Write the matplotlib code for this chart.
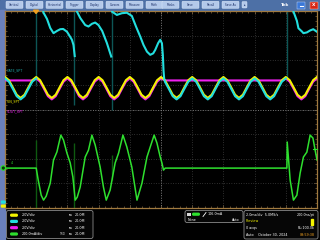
import numpy as np
import matplotlib.pyplot as plt
from matplotlib.patches import Rectangle, FancyBboxPatch, Circle, Polygon

# time base 2.0 ms/div, trigger at 0, 10 divisions on screen
t_grid = np.linspace(-2, 18, 81)   # 8 samples per division

# all traces in screen divisions (-4 .. 4)
# CH1 VIN_SPT (yellow)
ch1 = [1.32, 1.19, 0.90, 0.60, 0.47, 0.60, 0.90, 1.19,
       1.32, 1.19, 0.90, 0.60, 0.47, 0.60, 0.90, 1.19,
       1.32, 1.19, 0.90, 0.60, 0.47, 0.60, 0.90, 1.19,
       1.32, 1.19, 0.90, 0.60, 0.47, 0.60, 0.90, 1.19,
       1.32, 1.19, 0.90, 0.60, 0.47, 0.60, 0.90, 1.19,
       1.32, 1.19, 0.90, 0.60, 0.47, 0.60, 0.90, 1.19,
       1.32, 1.19, 0.90, 0.60, 0.47, 0.60, 0.90, 1.19,
       1.32, 1.19, 0.90, 0.60, 0.47, 0.60, 0.90, 1.19,
       1.32, 1.19, 0.90, 0.60, 0.47, 0.60, 0.90, 1.19,
       1.32, 1.19, 0.90, 0.60, 0.47, 0.60, 0.90, 1.19,
       1.32]

# CH3 VOUT_SPT (magenta)
ch3 = [1.18, 1.18, 1.18, 1.18, 1.18, 1.18, 1.18, 1.18,
       1.26, 1.13, 0.84, 0.54, 0.41, 0.54, 0.84, 1.13,
       1.26, 1.13, 0.84, 0.54, 0.41, 0.54, 0.84, 1.13,
       1.26, 1.13, 0.84, 0.54, 0.41, 0.54, 0.84, 1.13,
       1.26, 1.13, 0.84, 0.54, 0.41, 0.54, 0.84, 1.13,
       1.26, 1.18, 1.18, 1.18, 1.18, 1.18, 1.18, 1.18,
       1.18, 1.18, 1.18, 1.18, 1.18, 1.18, 1.18, 1.18,
       1.18, 1.18, 1.18, 1.18, 1.18, 1.18, 1.18, 1.18,
       1.18, 1.18, 1.18, 1.18, 1.18, 1.18, 1.18, 1.18,
       1.26, 1.13, 0.84, 0.54, 0.41, 0.54, 0.84, 1.13,
       1.26]

# CH2 GATE_SPT (cyan), bright parts as separate pieces
ch2_t = [
    [-2.0, -1.75, -1.5, -1.25, -1.0, -0.75, -0.5, -0.25, 0.0],
    [0.42, 0.47, 0.69, 0.90, 1.11, 1.33, 1.54, 1.73, 1.97, 2.18, 2.29, 2.39, 2.47],
    [2.58, 2.61, 2.82, 3.14, 3.35, 3.57, 3.78, 3.99, 4.23, 4.53, 4.81],
    [4.84, 4.85, 5.17, 5.49, 5.81, 6.13, 6.41, 6.67, 6.88, 7.10, 7.31, 7.50,
     7.63, 7.82, 7.95, 8.06, 8.12, 8.16, 8.20,
     8.25, 8.5, 8.75, 9.0, 9.25, 9.5, 9.75, 10.0,
     10.25, 10.5, 10.75, 11.0, 11.25, 11.5, 11.75, 12.0,
     12.25, 12.5, 12.75, 13.0, 13.25, 13.5, 13.75, 14.0,
     14.25, 14.5, 14.75, 15.0, 15.25, 15.5, 15.75, 16.0],
    [16.47, 16.49, 16.71, 16.81, 17.03, 17.13, 17.35, 17.56, 17.76, 17.99],
]
ch2_v = [
    [1.26, 1.13, 0.84, 0.54, 0.41, 0.54, 0.84, 1.13, 1.26],
    [4.10, 3.93, 3.68, 3.31, 3.10, 3.19, 3.26, 3.27, 3.16, 2.95, 2.83, 2.62, 2.17],
    [4.09, 3.98, 3.72, 3.43, 3.37, 3.48, 3.53, 3.43, 3.19, 2.70, 2.15],
    [4.09, 3.98, 3.84, 3.91, 3.93, 3.80, 3.35, 2.96, 2.62, 2.35, 2.22, 2.28,
     2.42, 2.70, 2.83, 2.69, 2.20, 1.60, 1.27,
     1.13, 0.84, 0.54, 0.41, 0.54, 0.84, 1.13, 1.26,
     1.13, 0.84, 0.54, 0.41, 0.54, 0.84, 1.13, 1.26,
     1.13, 0.84, 0.54, 0.41, 0.54, 0.84, 1.13, 1.26,
     1.13, 0.84, 0.54, 0.41, 0.54, 0.84, 1.13, 1.26],
    [4.09, 3.98, 3.60, 3.30, 3.17, 3.10, 3.13, 3.21, 3.26, 3.16],
]
# fast edges, drawn dim
ch2_edge_t = [0.0, 2.44, 4.86, 16.05]
ch2_edge_lo = [1.00, 0.18, -0.02, 1.28]

# CH4 current (green)
ch4_t = [-2.0, 0.0, 0.13, 0.32, 0.47, 0.64, 0.90, 1.11, 1.33, 1.43, 1.58, 1.75,
         1.97, 2.18, 2.35, 2.50, 2.63, 2.82, 3.14, 3.35, 3.57, 3.78, 4.10, 4.31,
         4.49, 4.74, 5.06, 5.28, 5.56, 5.81, 6.13, 6.31, 6.46, 6.78, 7.10, 7.31,
         7.56, 7.74, 7.95, 8.06, 8.16, 8.27, 16.07, 16.09, 16.28, 16.49, 16.71,
         16.92, 17.13, 17.35, 17.56, 17.74, 17.88, 18.0]
ch4_v = [-2.38, -2.38, -2.87, -3.48, -3.68, -3.52, -2.99, -2.05, -1.72, -1.44, -1.04, -1.24,
         -1.77, -2.17, -2.74, -3.68, -3.56, -3.15, -1.93, -1.65, -1.04, -1.44, -2.34, -3.15,
         -3.68, -3.27, -2.17, -1.77, -1.04, -1.52, -2.34, -3.07, -3.68, -2.99, -1.93, -1.52,
         -1.04, -1.36, -1.93, -2.17, -2.46, -2.38, -2.38, -1.32, -2.87, -3.68, -3.48,
         -2.58, -1.93, -1.73, -1.04, -1.16, -1.65, -2.05]
ch4_edge_t = [0.0, 2.44, 4.86]
ch4_edge_hi = [-1.24, -1.36, -1.85]
ch4_edge_lo = [-4.0, -4.0, -2.87]

menu_left = ["Vertical", "Digital", "Horizontal", "Trigger", "Display",
             "Cursors", "Measure", "Math", "Masks", "Save", "Recall", "Save As"]
ch_scales = ["2.0V/div", "2.0V/div", "2.0V/div", "200.0mA/div"]

YEL = "#f4f400"
CYN = "#22dede"
MAG = "#f020f0"
GRN = "#2ee02e"

fig = plt.figure(figsize=(3.2, 2.4), dpi=100)
fig.patch.set_facecolor("black")

# background / chrome in pixel coordinates
bg = fig.add_axes([0, 0, 1, 1], zorder=0)
bg.set_xlim(0, 320)
bg.set_ylim(240, 0)
bg.axis("off")
bg.add_patch(Rectangle((0, 0), 320, 10, color="#4d70a6"))
bg.add_patch(Rectangle((0, 10), 5, 230, color="#6a80bc"))

x0 = 6
for lab in menu_left:
    w = 18.6
    bg.add_patch(FancyBboxPatch((x0, 1.2), w - 1.6, 7.2,
                                boxstyle="round,pad=0,rounding_size=1",
                                fc="#b3c9ea", ec="#e0ecfa", lw=0.3))
    bg.text(x0 + (w - 1.6) / 2, 5.0, lab, fontsize=2.0, color="#1c2f66",
            ha="center", va="center")
    x0 += w + 1.4
    if lab == "Math":
        x0 = 162
bg.add_patch(FancyBboxPatch((242, 1.5), 5, 6.5, boxstyle="round,pad=0,rounding_size=1",
                            fc="#b3c9ea", ec="#e0ecfa", lw=0.3))
bg.text(244.5, 4.8, "\u25b8", fontsize=2.4, color="#1c2f66", ha="center", va="center")
bg.text(285, 5, "Tek", fontsize=3.2, color="white", fontweight="bold", ha="center", va="center")
bg.add_patch(Rectangle((297, 1.5), 8, 7, fc="#3a78d8", ec="#cfe0ff", lw=0.3))
bg.plot([299.5, 302.5], [6, 6], color="white", lw=0.8)
bg.add_patch(Rectangle((310, 1.5), 8, 7, fc="#d82818", ec="#ffd0c0", lw=0.3))
bg.text(314, 5, "X", fontsize=3.2, color="white", fontweight="bold", ha="center", va="center")

# channel settings box
bg.add_patch(FancyBboxPatch((6.5, 210.5), 86.5, 28, boxstyle="round,pad=0,rounding_size=2",
                            fc="#060606", ec="#8a8a8a", lw=0.6))
rows = [215.2, 221.4, 227.7, 234.0]
for y, col, sc in zip(rows, [YEL, CYN, MAG, GRN], ch_scales):
    bg.add_patch(FancyBboxPatch((10, y - 1.6), 8, 3.2, boxstyle="round,pad=0,rounding_size=1.5",
                                fc=col, ec="none"))
    bg.text(22, y, sc, fontsize=2.4, color="white", va="center")
    bg.text(69, y, "\u0299w", fontsize=2.0, color="white", va="center")
    bg.text(75, y, "20.0M", fontsize=2.4, color="white", va="center")
bg.text(59, rows[3], "TRD", fontsize=2.2, color="#c0c0c0", va="center")

# trigger box
bg.add_patch(FancyBboxPatch((185, 210.5), 58, 12, boxstyle="round,pad=0,rounding_size=2",
                            fc="#060606", ec="#8a8a8a", lw=0.6))
bg.add_patch(Rectangle((187, 212.5), 3.5, 3.5, fc="#d8d8d8", ec="none"))
bg.add_patch(FancyBboxPatch((192, 212.6), 8, 3.2, boxstyle="round,pad=0,rounding_size=1.5",
                            fc=GRN, ec="none"))
bg.plot([203, 206], [216.5, 212.5], color="white", lw=0.6)
bg.text(208, 214.3, "106.0mA", fontsize=2.4, color="white", va="center")
bg.text(188, 219.6, "None", fontsize=2.4, color="white", va="center")
bg.text(240, 219.6, "Auto", fontsize=2.4, color="white", va="center", ha="right")

# acquisition box
bg.add_patch(FancyBboxPatch((244, 210.5), 74, 28.5, boxstyle="round,pad=0,rounding_size=2",
                            fc="#060606", ec="#8a8a8a", lw=0.6))
bg.text(246, 215, "2.0ms/div  5.0MS/s", fontsize=2.4, color="white", va="center")
bg.text(315, 215, "200.0ns/pt", fontsize=2.4, color="white", va="center", ha="right")
bg.text(246, 221.5, "Preview", fontsize=2.4, color=YEL, va="center")
bg.add_patch(Rectangle((311, 218.5), 2, 6, color=YEL))
bg.text(246, 228, "0 acqs", fontsize=2.4, color="white", va="center")
bg.text(315, 228, "RL:100.0k", fontsize=2.4, color="white", va="center", ha="right")
bg.text(246, 234.5, "Auto    October 30, 2024", fontsize=2.4, color="white", va="center")
bg.text(315, 234.5, "09:59:38", fontsize=2.4, color="#f0a020", va="center", ha="right")

# scope graticule
ax = fig.add_axes([5 / 320, 32 / 240, 312 / 320, 197 / 240], zorder=1)
ax.set_facecolor("black")
ax.set_xlim(-2, 18)
ax.set_ylim(-4, 4)
ax.set_xticks(np.arange(-2, 18.1, 2))
ax.set_yticks(np.arange(-4, 4.1, 1))
ax.set_xticks(np.arange(-2, 18.1, 0.4), minor=True)
ax.set_yticks(np.arange(-4, 4.1, 0.2), minor=True)
ax.tick_params(which="both", direction="in", colors="#a08050", labelbottom=False,
               labelleft=False, top=True, right=True, width=0.4)
ax.tick_params(which="major", length=2.5)
ax.tick_params(which="minor", length=1.2)
ax.grid(True, which="major", color="#5a5a5a", ls=(0, (1, 2.5)), lw=0.5)
ax.axhline(0, color="#8a8a8a", ls=(0, (1, 2)), lw=0.6)
ax.axvline(8, color="#8a8a8a", ls=(0, (1, 2)), lw=0.6)
for s in ax.spines.values():
    s.set_color("#a07a40")
    s.set_linewidth(0.9)

# dim fast edges
ax.vlines(ch2_edge_t, ch2_edge_lo, 4.0, color="#0d5656", lw=1.0, zorder=2)
ax.vlines(ch4_edge_t, ch4_edge_lo, ch4_edge_hi, color="#0f5a10", lw=1.0, zorder=2)

ax.plot(t_grid, ch3, color=MAG, lw=1.5, zorder=3)
ax.plot(t_grid, ch1, color=YEL, lw=1.5, zorder=4)
for tt, vv in zip(ch2_t, ch2_v):
    ax.plot(tt, vv, color=CYN, lw=1.5, zorder=5)
ax.plot(ch4_t, ch4_v, color=GRN, lw=1.1, zorder=5)

ax.text(-1.88, 1.53, "GATE_SPT", fontsize=2.3, color="#20a8a8", zorder=6)
ax.text(-1.88, 0.30, "VIN_SPT", fontsize=2.3, color=YEL, zorder=6)
ax.text(-1.88, -0.12, "VOUT_SPT", fontsize=2.3, color=MAG, zorder=6)
ax.text(-1.6, -2.2, "4", fontsize=2.3, color=GRN, zorder=6)

# markers over the frame
ov = fig.add_axes([0, 0, 1, 1], zorder=3)
ov.set_xlim(0, 320)
ov.set_ylim(240, 0)
ov.axis("off")
ov.patch.set_alpha(0)
ov.add_patch(Polygon([[33.5, 10.2], [38.5, 10.2], [36, 13.5]], color="#f0a020"))
ov.add_patch(Circle((3.3, 168), 2.2, fc="#0a3a0a", ec=GRN, lw=0.8))
ov.add_patch(FancyBboxPatch((0.8, 200.5), 5, 3.2, boxstyle="round,pad=0,rounding_size=1",
                            fc=CYN, ec="none"))
ov.add_patch(FancyBboxPatch((0.8, 204.5), 5, 3.2, boxstyle="round,pad=0,rounding_size=1",
                            fc=YEL, ec="none"))
ov.plot([313, 317], [149, 149], color=GRN, lw=0.8)

fig.savefig("out.png", dpi=100, facecolor="black")
